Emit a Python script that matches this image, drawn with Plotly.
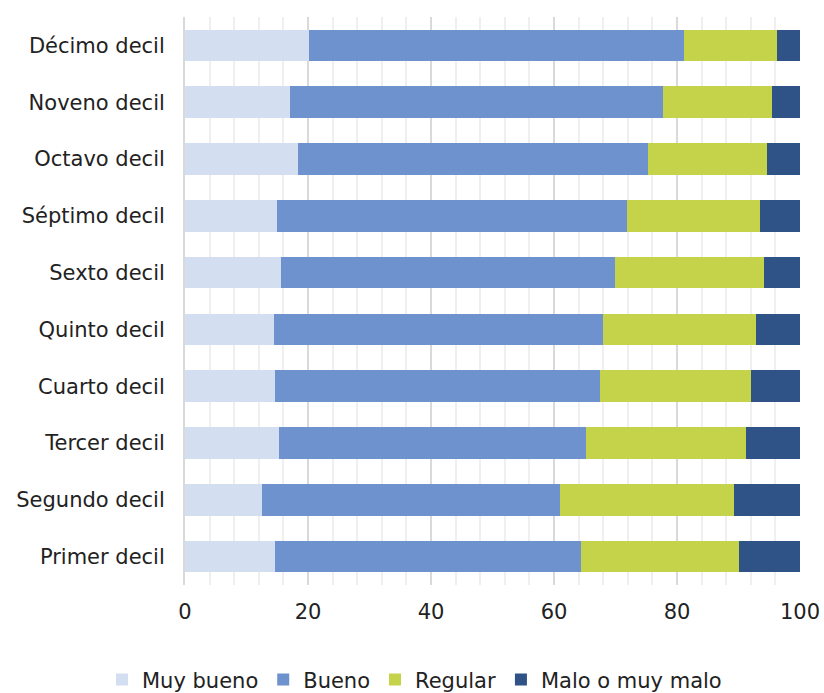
import plotly.graph_objects as go

categories = ["Décimo decil", "Noveno decil", "Octavo decil", "Séptimo decil", "Sexto decil",
              "Quinto decil", "Cuarto decil", "Tercer decil", "Segundo decil", "Primer decil"]
muy_bueno = [20.2, 17.0, 18.4, 14.9, 15.6, 14.4, 14.6, 15.3, 12.5, 14.6]
bueno = [61.0, 60.7, 56.9, 56.9, 54.3, 53.6, 52.9, 49.9, 48.4, 49.8]
regular = [15.1, 17.7, 19.4, 21.7, 24.3, 24.8, 24.6, 26.0, 28.4, 25.6]
malo = [3.7, 4.6, 5.3, 6.5, 5.8, 7.2, 7.9, 8.8, 10.7, 10.0]

series = [
    ("Muy bueno", muy_bueno, "#d3dff0"),
    ("Bueno", bueno, "#6d92cd"),
    ("Regular", regular, "#c5d34a"),
    ("Malo o muy malo", malo, "#2f5387"),
]

fig = go.Figure()
for name, vals, color in series:
    fig.add_trace(go.Bar(
        y=categories, x=vals, name=name, orientation="h",
        marker=dict(color=color, line=dict(width=0)),
    ))

font_family = "DejaVu Sans, Liberation Sans, sans-serif"
fig.update_layout(
    width=824, height=693,
    barmode="stack", bargap=0.445,
    paper_bgcolor="white", plot_bgcolor="white",
    margin=dict(l=185, r=24, t=17, b=108, autoexpand=False),
    font=dict(family=font_family, size=21, color="#222222"),
    showlegend=True,
    legend=dict(
        orientation="h", xref="paper", yref="paper",
        x=-0.135, xanchor="left", y=-0.167, yanchor="middle",
        font=dict(size=21, color="#222222"), traceorder="normal",
        itemwidth=30,
    ),
    xaxis=dict(
        range=[0, 100], dtick=20, tick0=0,
        showgrid=True, gridcolor="#d9d9d9", gridwidth=1.5,
        minor=dict(dtick=4, showgrid=True, gridcolor="#efefef", gridwidth=1.5),
        zeroline=False, showline=False, ticks="",
        ticklabelstandoff=12,
        tickfont=dict(size=21, color="#222222"),
    ),
    yaxis=dict(
        autorange="reversed", showgrid=False, zeroline=False,
        showline=True, linecolor="#d9d9d9", linewidth=2,
        ticks="", ticklabelstandoff=14,
        tickfont=dict(size=21, color="#222222"),
    ),
)

fig.write_html("out.html", config={"displayModeBar": False},
               post_script="document.body.style.margin='0';")
